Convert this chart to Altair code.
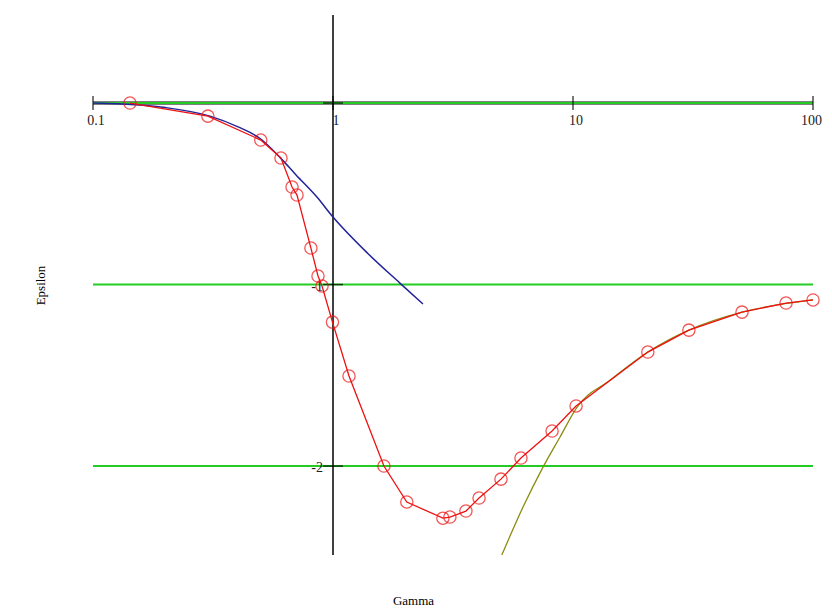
import altair as alt
import pandas as pd

# Red measured series (Gamma, Epsilon)
red_g = [0.1426, 0.301, 0.50, 0.607, 0.675, 0.708, 0.809, 0.866, 0.90, 0.995,
         1.166, 1.63, 2.03, 2.87, 3.07, 3.58, 4.06, 5.01, 6.07, 8.18, 10.3,
         20.5, 30.4, 50.6, 77.2, 100.0]
red_e = [0.0, -0.072, -0.204, -0.303, -0.463, -0.507, -0.799, -0.953, -1.008, -1.207,
         -1.504, -2.0, -2.198, -2.287, -2.281, -2.248, -2.176, -2.072, -1.956, -1.807, -1.669,
         -1.372, -1.251, -1.152, -1.102, -1.085]

# Blue low-gamma approximation
blue_g = [0.1, 0.133, 0.2, 0.307, 0.40, 0.50, 0.60, 0.70, 0.857, 1.0, 1.4, 1.90, 2.37]
blue_e = [0.0, -0.005, -0.025, -0.072, -0.130, -0.198, -0.298, -0.395, -0.518, -0.628, -0.83, -0.992, -1.107]

# Olive high-gamma approximation
olive_g = [5.05, 6.19, 7.50, 8.83, 10.4, 14.3, 20.5, 30.4, 50.6, 100.0]
olive_e = [-2.49, -2.226, -2.006, -1.840, -1.675, -1.526, -1.372, -1.251, -1.152, -1.085]

# Axes
x_domain = [0.1, 100]
y_domain = [-2.49, 0.485]
x_ticks = [0.1, 1, 10, 100]
x_tick_labels = ["0.1", "1", "10", "100"]
y_ticks = [0, -1, -2]
y_label_vals = [-1, -2]
y_tick_labels = ["-1", "-2"]
green_levels = [0, -1, -2]

FONT = "Liberation Serif"

xs = alt.Scale(type="log", domain=x_domain, nice=False)
ys = alt.Scale(domain=y_domain, nice=False, zero=False)

red_df = pd.DataFrame({"g": red_g, "e": red_e})
blue_df = pd.DataFrame({"g": blue_g, "e": blue_e})
olive_df = pd.DataFrame({"g": olive_g, "e": olive_e})
green_df = pd.DataFrame({"g": [x_domain[0]] * 3, "g2": [x_domain[1]] * 3, "e": green_levels})
xaxis_df = pd.DataFrame({"g": [x_domain[0]], "g2": [x_domain[1]], "e": [0]})
yaxis_df = pd.DataFrame({"g": [1], "e": [y_domain[0]], "e2": [y_domain[1]]})
xtick_df = pd.DataFrame({"g": x_ticks, "e": [0] * len(x_ticks), "lab": x_tick_labels})
ytick_df = pd.DataFrame({"g": [1] * len(y_ticks), "e": y_ticks})
ylab_df = pd.DataFrame({"g": [1] * len(y_label_vals), "e": y_label_vals, "lab": y_tick_labels})

X = alt.X("g:Q", scale=xs, axis=alt.Axis(title="Gamma", labels=False, ticks=False, domain=False,
                                          grid=False, titleFont=FONT, titleFontSize=13,
                                          titleFontWeight="normal", titleColor="#000",
                                          titlePadding=39, titleX=320))
Y = alt.Y("e:Q", scale=ys, axis=alt.Axis(title="Epsilon", labels=False, ticks=False, domain=False,
                                          grid=False, titleFont=FONT, titleFontSize=13,
                                          titleFontWeight="normal", titleColor="#000",
                                          titlePadding=46))
Xp = alt.X("g:Q", scale=xs)
Yp = alt.Y("e:Q", scale=ys)

green = alt.Chart(green_df).mark_rule(color="#22cc22", strokeWidth=2).encode(
    x=X, x2="g2:Q", y=Y)
xaxis = alt.Chart(xaxis_df).mark_rule(color="#000", strokeWidth=3).encode(
    x=Xp, x2="g2:Q", y=Yp)
green0 = alt.Chart(green_df[green_df.e == 0]).mark_rule(color="#22cc22", strokeWidth=2).encode(
    x=Xp, x2="g2:Q", y=Yp)
yaxis = alt.Chart(yaxis_df).mark_rule(color="#000", strokeWidth=1.5).encode(
    x=Xp, y=Yp, y2="e2:Q")
xticks = alt.Chart(xtick_df).mark_tick(color="#000", orient="vertical", size=14, thickness=1.5).encode(
    x=Xp, y=Yp)
yticks = alt.Chart(ytick_df).mark_tick(color="#000", orient="horizontal", size=20, thickness=1.5).encode(
    x=Xp, y=Yp)
xlabels = alt.Chart(xtick_df.iloc[:-1]).mark_text(font=FONT, fontSize=14, align="center", baseline="top",
                                                  dx=3, dy=11, color="#222").encode(x=Xp, y=Yp, text="lab:N")
xlabel_last = alt.Chart(xtick_df.iloc[-1:]).mark_text(font=FONT, fontSize=14, align="right", baseline="top",
                                                      dx=9, dy=11, color="#222").encode(x=Xp, y=Yp, text="lab:N")
ylabels = alt.Chart(ylab_df).mark_text(font=FONT, fontSize=14, align="right", baseline="middle",
                                       dx=-10, dy=2, color="#222").encode(x=Xp, y=Yp, text="lab:N")

blue = alt.Chart(blue_df).mark_line(color="#22229a", strokeWidth=1.5, interpolate="monotone").encode(
    x=Xp, y=Yp)
olive = alt.Chart(olive_df).mark_line(color="#8c8c10", strokeWidth=1.3, interpolate="monotone").encode(
    x=Xp, y=Yp)
red_line = alt.Chart(red_df).mark_line(color="#ee1111", strokeWidth=1.3).encode(x=Xp, y=Yp)
red_pts = alt.Chart(red_df).mark_point(shape="circle", filled=False, color="#ee1111", size=150,
                                       strokeWidth=1.3).encode(x=Xp, y=Yp)

chart = alt.layer(green, xaxis, green0, yaxis, xticks, yticks, xlabels, xlabel_last, ylabels,
                  blue, olive, red_line, red_pts).properties(
    width=720, height=540,
    background="white",
    autosize=alt.AutoSizeParams(type="none"),
    padding={"left": 85, "top": 7, "right": 11, "bottom": 58},
).configure_view(strokeWidth=0)

chart.save("out.html", embed_options={"renderer": "svg", "actions": False})
